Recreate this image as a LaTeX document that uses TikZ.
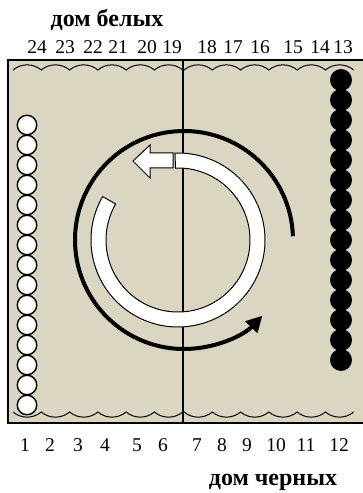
\documentclass[tikz,border=0pt]{standalone}
\usepackage{fontspec}
\setmainfont{Liberation Serif}
\usepackage{xcolor}
\usetikzlibrary{arrows.meta}
\definecolor{doska}{RGB}{218,214,194}

\begin{document}
\begin{tikzpicture}[x=1pt, y=1pt,
  nomer/.style={font=\fontsize{19.5}{22}\selectfont, inner sep=0pt},
  dom/.style={font=\bfseries\fontsize{24}{26}\selectfont, anchor=base, inner sep=0pt},
  belaya/.style={circle, draw, line width=1.4pt, fill=white, minimum size=19.5pt, inner sep=0pt},
  chernaya/.style={circle, fill=black, minimum size=22pt, inner sep=0pt}]
  \useasboundingbox (0,0) rectangle (363,493);
  % доска
  \fill[doska] (8,70) rectangle (363,433);
  \draw[line width=2pt] (363,433) -- (8,433) -- (8,70) -- (363,70);
  \draw[line width=1.3pt] (183,433) -- (183,70);
  % шашки
  \foreach \i in {0,...,14}
    \node[belaya] (bel\i) at (27,368-20*\i) {};
  \foreach \i in {0,...,14}
    \node[chernaya] (cher\i) at (341,413-20*\i) {};
  % волны сверху и снизу
  \draw[line width=1pt] (13,423) \foreach \i in {1,...,6} {arc[start angle=130, end angle=50, radius=22]};
  \draw[line width=1pt] (184,423) \foreach \i in {1,...,6} {arc[start angle=130, end angle=50, radius=22]};
  \draw[line width=1pt] (13,81) \foreach \i in {1,...,6} {arc[start angle=230, end angle=310, radius=22]};
  \draw[line width=1pt] (184,81) \foreach \i in {1,...,6} {arc[start angle=230, end angle=310, radius=22]};
  % черная стрелка
  \coordinate (centr) at (184,253);
  \draw[line width=4pt, -{Triangle[length=16pt, width=16pt]}]
    ([shift={(2:109)}]centr) arc[start angle=2, end angle=316, radius=109];
  % белая стрелка
  \coordinate (okr) at (178,253);
  \draw[fill=white, line width=1pt]
    ([shift={(150:87)}]okr) arc[start angle=150, end angle=452, radius=87]
    -- ([shift={(452:72)}]okr) arc[start angle=452, end angle=150, radius=72] -- cycle;
  \draw[fill=white, line width=1pt] (173,340) -- (150,340) -- (150,348) -- (133,332)
    -- (150,315) -- (150,325) -- (173,325) -- cycle;
  % номера пунктов
  \foreach \n/\x in {24/37, 23/65, 22/93, 21/118, 20/147, 19/172,
                     18/207, 17/233, 16/260, 15/293, 14/320, 13/343}
    \node[nomer] (v\n) at (\x,446) {\n};
  \foreach \n/\x in {1/25, 2/50, 3/78, 4/105, 5/137, 6/163,
                     7/197, 8/222, 9/247, 10/276, 11/306, 12/339}
    \node[nomer] (n\n) at (\x,48) {\n};
  % дома
  \node[dom] (dombel) at (107,466) {дом белых};
  \node[dom] (domcher) at (273,8) {дом черных};
\end{tikzpicture}
\end{document}
